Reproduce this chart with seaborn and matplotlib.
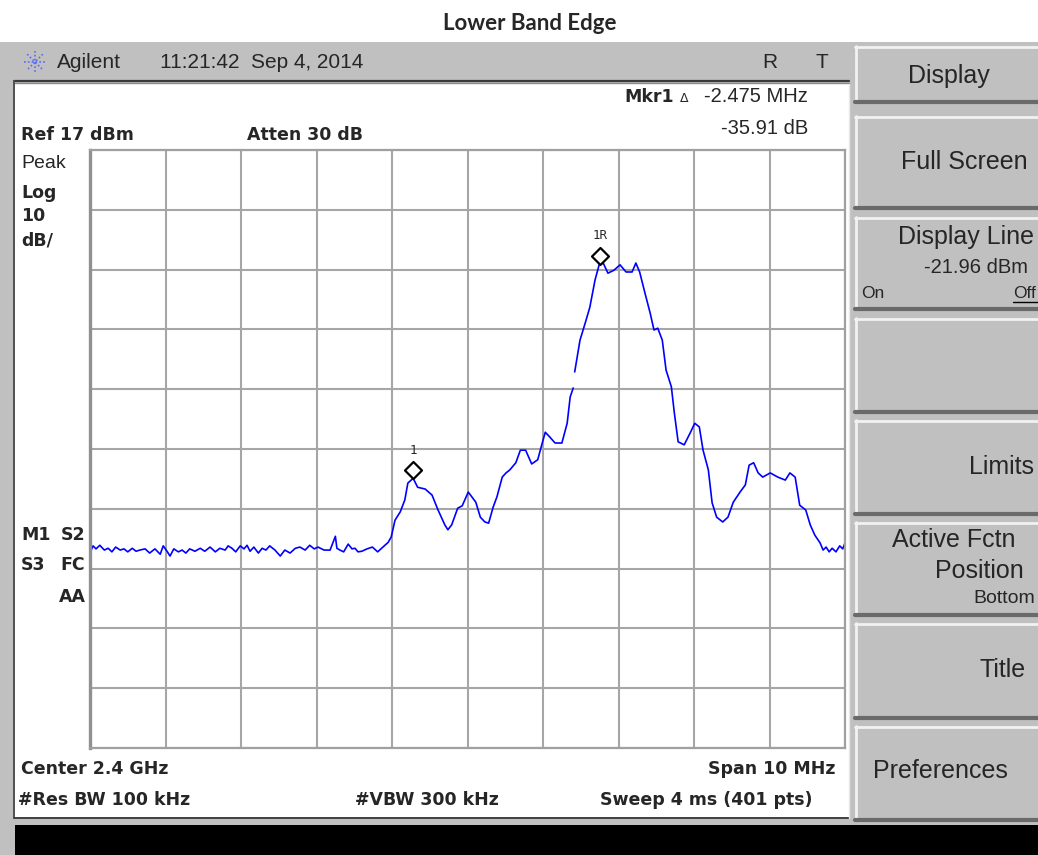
import numpy as np
import matplotlib.pyplot as plt
import matplotlib.transforms as mtransforms
from matplotlib.patches import Rectangle
import seaborn as sns

# spectrum trace: offset from 2.4 GHz centre (MHz) and level (dBm)
# first piece runs up to the small break on the rising edge of the main lobe
trace1_off = [-5.00, -4.96, -4.92, -4.87, -4.81, -4.76, -4.71, -4.66, -4.60, -4.55,
              -4.50, -4.44, -4.39, -4.34, -4.27, -4.21, -4.14, -4.07, -4.03, -3.98,
              -3.94, -3.89, -3.83, -3.78, -3.73, -3.68, -3.61, -3.54, -3.48, -3.41,
              -3.34, -3.28, -3.21, -3.17, -3.12, -3.07, -3.01, -2.96, -2.92, -2.88,
              -2.83, -2.77, -2.72, -2.67, -2.62, -2.55, -2.48, -2.42, -2.35, -2.28,
              -2.22, -2.15, -2.09, -2.03, -1.98, -1.90, -1.82, -1.75, -1.73, -1.69,
              -1.64, -1.58, -1.53, -1.49, -1.45, -1.40, -1.33, -1.26, -1.19, -1.12,
              -1.05, -1.01, -0.96, -0.89, -0.83, -0.79, -0.72, -0.66, -0.56, -0.47,
              -0.39, -0.30, -0.26, -0.21, -0.13, -0.07, 0.01, 0.11, 0.17, 0.23,
              0.28, 0.34, 0.39, 0.46, 0.51, 0.56, 0.64, 0.70, 0.77, 0.85,
              0.93, 0.99, 1.03, 1.09, 1.16, 1.25, 1.32, 1.36, 1.40]
trace1_dbm = [-50.4, -49.2, -49.7, -49.1, -49.9, -49.6, -50.2, -49.4, -49.9, -49.7,
              -50.2, -49.6, -50.1, -49.9, -49.7, -50.4, -49.7, -50.6, -49.2, -50.1,
              -50.9, -49.7, -50.2, -49.9, -50.4, -49.7, -50.1, -49.6, -50.1, -49.4,
              -50.2, -49.6, -49.9, -49.2, -49.6, -50.2, -49.2, -49.7, -49.1, -50.1,
              -49.4, -50.4, -49.6, -49.9, -49.2, -49.9, -50.9, -49.9, -50.4, -49.6,
              -49.4, -49.9, -49.1, -49.7, -49.4, -49.9, -49.9, -47.6, -49.6, -49.9,
              -50.2, -48.9, -49.7, -49.6, -50.2, -50.1, -49.7, -49.4, -50.2, -49.4,
              -48.6, -47.7, -44.9, -43.5, -41.5, -38.7, -37.9, -39.4, -39.7, -40.7,
              -43.2, -45.7, -46.5, -45.7, -42.9, -42.5, -40.2, -41.9, -44.4, -45.2,
              -45.4, -42.7, -41.0, -37.7, -37.0, -36.5, -35.3, -33.2, -33.2, -35.5,
              -34.8, -32.0, -30.2, -31.0, -32.0, -32.0, -28.7, -24.3, -22.8]

trace2_off = [1.42, 1.49, 1.56, 1.62, 1.69, 1.75, 1.79, 1.86, 1.94, 2.02,
              2.10, 2.18, 2.23, 2.28, 2.35, 2.42, 2.47, 2.52, 2.58, 2.63,
              2.70, 2.74, 2.79, 2.87, 2.95, 3.01, 3.07, 3.12, 3.19, 3.24,
              3.30, 3.38, 3.45, 3.52, 3.61, 3.68, 3.73, 3.79, 3.85, 3.91,
              4.01, 4.11, 4.21, 4.27, 4.34, 4.40, 4.48, 4.54, 4.60, 4.67,
              4.71, 4.75, 4.79, 4.83, 4.88, 4.93, 4.97, 5.00]
trace2_dbm = [-20.1, -14.8, -11.9, -9.3, -4.7, -1.9, -1.7, -3.6, -3.1, -2.2,
              -3.4, -3.4, -1.9, -3.4, -6.9, -10.3, -13.1, -12.8, -14.8, -19.8,
              -22.6, -27.0, -31.8, -32.3, -30.3, -28.7, -29.3, -33.2, -36.5, -42.0,
              -44.4, -45.2, -44.4, -41.9, -40.2, -39.0, -35.7, -35.3, -37.0, -37.7,
              -37.0, -37.7, -38.2, -37.0, -37.7, -42.4, -43.2, -45.7, -47.4, -48.7,
              -49.9, -49.4, -50.2, -49.6, -50.2, -49.2, -49.7, -48.7]

# markers: marker 1 and its delta reference 1R (+2.475 MHz, +35.91 dB)
marker_off = [-0.72, 1.755]
marker_dbm = [-37.9, -1.99]
marker_names = ["1", "1R"]

center_mhz = 2400
span_mhz = 10
ref_dbm = 17
db_per_div = 10

sns.set_theme(style="white")
plt.rcParams["font.family"] = ["Liberation Sans", "DejaVu Sans"]

W, H = 1038, 855
fig = plt.figure(figsize=(W / 100, H / 100), dpi=100)
fig.patch.set_facecolor("white")

# background "screen" drawn in pixel units
bg = fig.add_axes([0, 0, 1, 1])
bg.set_xlim(0, W)
bg.set_ylim(H, 0)
bg.axis("off")

gray = "#c0c0c0"
bg.add_patch(Rectangle((0, 42), W, H - 42, fc=gray, ec="none"))
bg.add_patch(Rectangle((15, 84), 835, 734, fc="white", ec="none"))
bg.plot([14, 849], [81, 81], color="#3a3a3a", lw=1.6)
bg.plot([14, 849], [83.5, 83.5], color="#8a8a8a", lw=1.0)
bg.plot([14, 14], [81, 818], color="#505050", lw=1.4)
bg.plot([14, 849], [818, 818], color="#404040", lw=1.4)
bg.plot([849, 849], [84, 818], color="#e8e8e8", lw=1.0)
bg.add_patch(Rectangle((15, 825), W - 15, 30, fc="black", ec="none"))

# header bar
cx, cy = 35, 62
for a in np.linspace(0, np.pi, 4, endpoint=False):
    dx, dy = 11 * np.cos(a), 11 * np.sin(a)
    bg.plot([cx - dx, cx + dx], [cy - dy, cy + dy], color="#5a6cf2", lw=1.2,
            ls=(0, (1, 1.3)))
bg.text(57, 62, "Agilent", fontsize=15, va="center", ha="left")
bg.text(160, 62, "11:21:42  Sep 4, 2014", fontsize=15, va="center", ha="left")
bg.text(762, 62, "R", fontsize=15, va="center", ha="left")
bg.text(815, 62, "T", fontsize=15, va="center", ha="left")

# softkeys
keys = [(46, 102), (116, 208), (217, 309), (318, 412), (420, 514), (522, 615), (623, 718), (726, 820)]
for y0, y1 in keys:
    bg.add_patch(Rectangle((855, y0), W - 855, y1 - y0, fc=gray, ec="none"))
    bg.plot([855, W], [y0 + 1, y0 + 1], color="#f2f2f2", lw=2)
    bg.plot([856, 856], [y0, y1], color="#f2f2f2", lw=2)
    bg.plot([855, W], [y1, y1], color="#6a6a6a", lw=3)

big = 18
bg.text(949, 76, "Display", fontsize=big, ha="center", va="center")
bg.text(1028, 162, "Full Screen", fontsize=big, ha="right", va="center")
bg.text(1034, 237, "Display Line", fontsize=big, ha="right", va="center")
bg.text(1028, 267, "-21.96 dBm", fontsize=14.5, ha="right", va="center")
bg.text(861, 293, "On", fontsize=12.5, ha="left", va="center")
bg.text(1013, 293, "Off", fontsize=12.5, ha="left", va="center")
bg.plot([1013, 1038], [302, 302], color="black", lw=1)
bg.text(1034, 467, "Limits", fontsize=big, ha="right", va="center")
bg.text(892, 540, "Active Fctn", fontsize=big, ha="left", va="center")
bg.text(935, 571, "Position", fontsize=big, ha="left", va="center")
bg.text(1035, 598, "Bottom", fontsize=14, ha="right", va="center")
bg.text(1026, 670, "Title", fontsize=big, ha="right", va="center")
bg.text(873, 771, "Preferences", fontsize=big, ha="left", va="center")

# annotation text on the screen
bold = dict(fontfamily="DejaVu Sans", fontweight="bold", fontsize=12.5, va="center")
bg.text(21, 135, "Ref 17 dBm", ha="left", **bold)
bg.text(247, 135, "Atten 30 dB", ha="left", **bold)
bg.text(21, 163, "Peak", fontsize=14, ha="left", va="center")
bg.text(21, 193, "Log", ha="left", **bold)
bg.text(21, 216, "10", ha="left", **bold)
bg.text(21, 240, "dB/", ha="left", **bold)
bg.text(21, 535, "M1", ha="left", **bold)
bg.text(61, 535, "S2", ha="left", **bold)
bg.text(21, 565, "S3", ha="left", **bold)
bg.text(60, 565, "FC", ha="left", **bold)
bg.text(86, 597, "AA", ha="right", **bold)
bg.text(21, 769, "Center 2.4 GHz", ha="left", **bold)
bg.text(18, 800, "#Res BW 100 kHz", ha="left", **bold)
bg.text(355, 800, "#VBW 300 kHz", ha="left", **bold)
bg.text(835, 769, "Span 10 MHz", ha="right", **bold)
bg.text(813, 800, "Sweep 4 ms (401 pts)", ha="right", **bold)

bg.text(624, 97, "Mkr1", fontfamily="Liberation Sans Narrow", fontweight="bold",
        fontsize=12.5, ha="left", va="center")
bg.text(684, 98, "\u0394", fontfamily="DejaVu Sans", fontsize=9, ha="center", va="center")
bg.text(808, 97, "-2.475 MHz", fontsize=14.5, ha="right", va="center")
bg.text(808, 129, "-35.91 dB", fontsize=14.5, ha="right", va="center")

# title above the screenshot
bg.text(530, 24, "Lower Band Edge", fontfamily=["Lato", "DejaVu Sans"], fontweight="bold",
        fontsize=16, ha="center", va="center")

# the graticule with the trace
x0, x1, y0, y1 = 90, 845, 150, 748
ax = fig.add_axes([x0 / W, (H - y1) / H, (x1 - x0) / W, (y1 - y0) / H])
ax.set_facecolor("white")
fmin, fmax = center_mhz - span_mhz / 2, center_mhz + span_mhz / 2
bottom = ref_dbm - 10 * db_per_div
ax.set_xlim(fmin, fmax)
ax.set_ylim(bottom, ref_dbm)
ax.set_xticks(np.linspace(fmin, fmax, 11))
ax.set_yticks(np.linspace(bottom, ref_dbm, 11))
ax.tick_params(length=0, labelbottom=False, labelleft=False)
ax.grid(True, color="#a6a6a6", lw=1.5)
ax.set_axisbelow(True)
for side, sp in ax.spines.items():
    sp.set_visible(True)
    sp.set_color("#a0a0a0")
    sp.set_linewidth(1.6)
ax.spines["left"].set_linewidth(2.4)
ax.spines["left"].set_color("#909090")

for off, lvl in [(trace1_off, trace1_dbm), (trace2_off, trace2_dbm)]:
    sns.lineplot(x=center_mhz + np.array(off), y=lvl, ax=ax, color="#0000ff",
                 lw=1.2, sort=False, estimator=None, clip_on=False)

mk_x = center_mhz + np.array(marker_off)
up8 = ax.transData + mtransforms.ScaledTranslation(0, 8 / 100, fig.dpi_scale_trans)
ax.scatter(mk_x, marker_dbm, marker="D", s=75, facecolor="white", edgecolor="black",
           linewidths=1.6, zorder=5, transform=up8, clip_on=False)
for x, y, name in zip(mk_x, marker_dbm, marker_names):
    ax.annotate(name, (x, y), xytext=(0, 20), textcoords="offset points",
                ha="center", va="center", fontsize=9, fontfamily="DejaVu Sans Mono",
                annotation_clip=False)

fig.savefig("out.png", dpi=100)
